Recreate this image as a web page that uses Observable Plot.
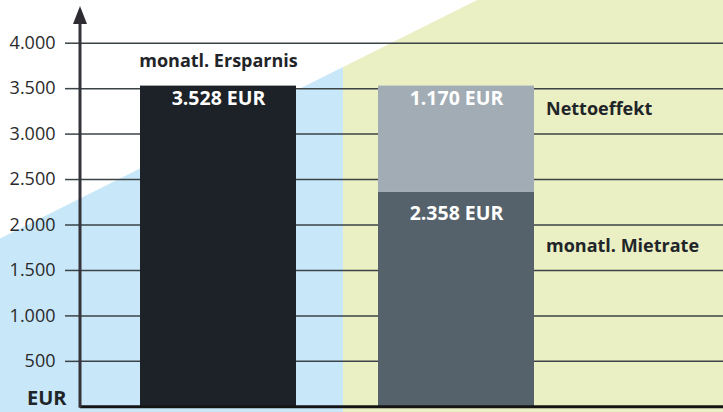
<!DOCTYPE html>
<html><head><meta charset="utf-8">
<script src="https://cdn.jsdelivr.net/npm/d3@7"></script>
<script src="https://cdn.jsdelivr.net/npm/@observablehq/plot@0.6"></script>
<style>body{margin:0;background:#fff}#chart svg{display:block}</style>
</head><body><div id="chart"></div>
<script>
// ---- data ----
const categories = ["Ersparnis", "Miete"];
const segments = ["monatl. Ersparnis", "monatl. Mietrate", "Nettoeffekt"];
const segmentCategory = ["Ersparnis", "Miete", "Miete"];
const segmentValues = [3528, 2358, 1170];
const segmentColors = ["#1c2228", "#56626b", "#a2acb4"];
const yTicks = [500, 1000, 1500, 2000, 2500, 3000, 3500, 4000];
const yTickLabels = ["500", "1.000", "1.500", "2.000", "2.500", "3.000", "3.500", "4.000"];
const unitLabel = "EUR";
const currency = "EUR";

const de = d3.formatLocale({decimal: ",", thousands: ".", grouping: [3], currency: ["", " EUR"]});
const fmt = de.format(",");
const rows = segments.map((s, i) => ({cat: segmentCategory[i], segment: s, value: segmentValues[i], label: fmt(segmentValues[i]) + " " + currency}));
const tickLabelOf = new Map(yTicks.map((t, i) => [t, yTickLabels[i]]));

// decorative background (blue / green panels under a diagonal)
function background(index, scales, values, dims) {
  const {width, height} = dims;
  const ns = "http://www.w3.org/2000/svg";
  const g = document.createElementNS(ns, "g");
  const split = width * 0.4745;
  const y0 = height * 0.579, slope = 0.5;
  const yAt = x => y0 - slope * x;
  const xTop = y0 / slope;
  const blue = document.createElementNS(ns, "path");
  blue.setAttribute("d", `M0,${y0}L${split},${yAt(split)}L${split},${height}L0,${height}Z`);
  blue.setAttribute("fill", "#c8e7f9");
  const green = document.createElementNS(ns, "path");
  green.setAttribute("d", `M${split},${yAt(split)}L${xTop},0L${width},0L${width},${height}L${split},${height}Z`);
  green.setAttribute("fill", "#eaefc4");
  g.append(blue, green);
  return g;
}
// vertical axis line with arrow head
function axisArrow(index, scales, values, dims) {
  const {height, marginLeft, marginTop, marginBottom} = dims;
  const ns = "http://www.w3.org/2000/svg";
  const g = document.createElementNS(ns, "g");
  const line = document.createElementNS(ns, "line");
  line.setAttribute("x1", marginLeft); line.setAttribute("x2", marginLeft);
  line.setAttribute("y1", marginTop); line.setAttribute("y2", height - marginBottom + 1.5);
  line.setAttribute("stroke", "#35323a"); line.setAttribute("stroke-width", 3);
  const arrow = document.createElementNS(ns, "path");
  arrow.setAttribute("d", `M${marginLeft},${marginTop - 18}L${marginLeft + 7},${marginTop}L${marginLeft - 7},${marginTop}Z`);
  arrow.setAttribute("fill", "#2f2c33");
  g.append(line, arrow);
  return g;
}

const only = (seg, field) => d => d.segment === seg ? d[field] : "";
const except = (seg, field) => d => d.segment !== seg ? d[field] : "";

const chart = Plot.plot({
  width: 723,
  height: 412,
  marginLeft: 80,
  marginRight: 0,
  marginTop: 24,
  marginBottom: 5.7,
  style: {fontFamily: "'Open Sans', sans-serif", background: "transparent", overflow: "visible"},
  x: {type: "band", domain: categories, range: [139, 535], paddingInner: 0.343, paddingOuter: 0, axis: null},
  y: {domain: [0, 4000], range: [406.3, 42.7], axis: null},
  color: {domain: segments, range: segmentColors},
  marks: [
    background,
    Plot.ruleY(yTicks, {stroke: "#3b4347", strokeWidth: 1.5}),
    Plot.axisY(yTicks, {tickSize: 15, tickPadding: 10, tickFormat: d => tickLabelOf.get(d), fontSize: 18, color: "#2a2a2a", stroke: "#3b4347", strokeWidth: 1.5, label: null}),
    Plot.barY(rows, Plot.stackY({x: "cat", y: "value", fill: "segment"})),
    Plot.ruleY([0], {stroke: "#141414", strokeWidth: 3}),
    axisArrow,
    // category title above first bar
    Plot.text(rows, Plot.stackY2({x: "cat", y: "value", text: only("monatl. Ersparnis", "segment"), dy: -25, fontSize: 18, fontWeight: 700, fill: "#1f2528"})),
    // value labels at the top of each segment
    Plot.text(rows, Plot.stackY2({x: "cat", y: "value", text: except("monatl. Mietrate", "label"), dy: 13, fontSize: 19.5, fontWeight: 700, fill: "white"})),
    Plot.text(rows, Plot.stackY2({x: "cat", y: "value", text: only("monatl. Mietrate", "label"), dy: 21, fontSize: 19.5, fontWeight: 700, fill: "white"})),
    // side labels for stacked bar
    Plot.text(rows, Plot.stackY2({x: "cat", y: "value", text: only("Nettoeffekt", "segment"), dx: 89.5, dy: 23, textAnchor: "start", fontSize: 18, fontWeight: 700, fill: "#1f2528"})),
    Plot.text(rows, Plot.stackY2({x: "cat", y: "value", text: only("monatl. Mietrate", "segment"), dx: 89.5, dy: 54, textAnchor: "start", fontSize: 18, fontWeight: 700, fill: "#1f2528"})),
    // unit label
    Plot.text([unitLabel], {y: [0], text: d => d, frameAnchor: "left", textAnchor: "end", dx: -14, dy: -8, fontSize: 20, fontWeight: 700, fill: "#1f2528"})
  ]
});
document.getElementById("chart").append(chart);
</script>
</body></html>
